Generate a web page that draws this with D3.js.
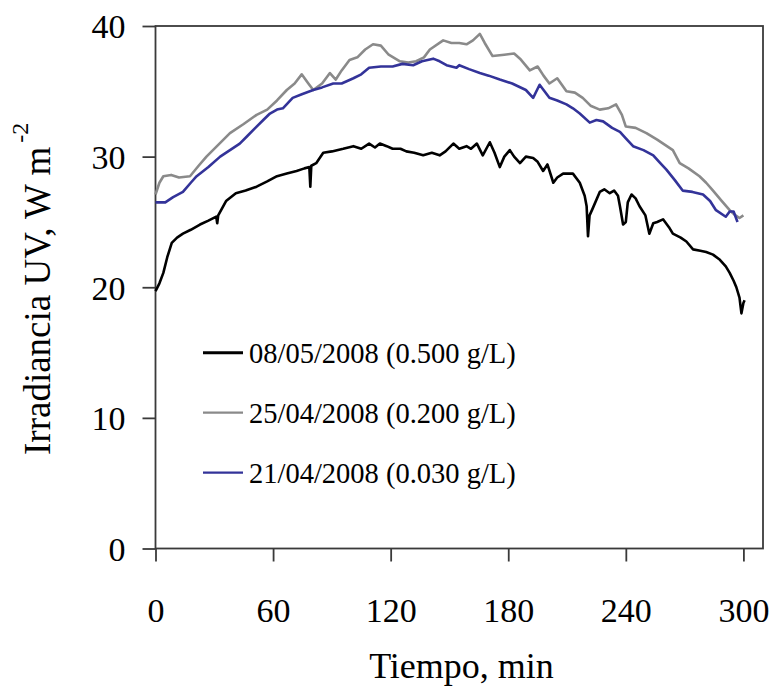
<!DOCTYPE html>
<html>
<head>
<meta charset="utf-8">
<script src="https://cdn.jsdelivr.net/npm/d3@7"></script>
<style>
  body { margin: 0; background: #fff; }
  text { font-family: "Liberation Serif", "Times New Roman", serif; fill: #000; }
</style>
</head>
<body>
<div class="areaGrafica"></div>
<script>
// datos: [tiempo (min), irradiancia (W m-2)]
const serie050 = [[0,19.7],[2,20.3],[4,21.1],[6,22.3],[8.3,23.4],[11,23.8],[14,24.1],[18,24.4],[22.7,24.8],[27,25.1],[31,25.4],[31.5,24.9],[32,25.5],[36,26.6],[41,27.2],[46,27.4],[51.6,27.7],[57,28.1],[62,28.5],[67,28.7],[72,28.9],[76,29.1],[78.5,29.2],[79,27.7],[79.5,29.3],[82,29.5],[85.6,30.3],[90,30.4],[95.8,30.6],[101,30.8],[105,30.6],[109,31.0],[112,30.7],[114.5,31.0],[118,30.8],[121,30.6],[125,30.6],[128,30.4],[132,30.3],[136.6,30.1],[141,30.3],[145,30.1],[148,30.4],[152,31.0],[155,30.6],[158.7,30.8],[161,30.6],[164,31.0],[167,30.1],[170.6,31.1],[173,30.3],[175.7,29.2],[178,30.0],[180.8,30.5],[183,30.0],[186,29.5],[189,30.0],[192.7,29.9],[195,29.6],[197.8,28.9],[200,29.4],[203,28.0],[205,28.4],[208,28.7],[213,28.7],[216.5,28.0],[219,27.0],[220,26.2],[220.7,23.9],[221.5,25.5],[223,26.0],[226.7,27.3],[229,27.5],[231.8,27.2],[234,27.4],[236,27.0],[237,26.2],[238.6,24.8],[240,25.0],[241,26.5],[242.9,27.1],[245,26.8],[247,26.2],[250,25.5],[252,24.1],[254,24.9],[256,25.0],[259,25.2],[262,24.6],[264,24.1],[268,23.8],[270.9,23.5],[274.3,22.9],[278,22.8],[281,22.7],[284.5,22.5],[288,22.1],[291,21.6],[293,21.1],[295,20.5],[296.4,20.0],[298,19.2],[299,18.0],[300,18.8],[300.6,19.0]];

const serie020 = [[0,27.1],[2,28.0],[4,28.5],[8,28.6],[12,28.4],[17.6,28.5],[22,29.3],[26,30.0],[32,30.9],[38,31.8],[45,32.5],[51.6,33.2],[57,33.6],[62,34.3],[67,35.1],[71,35.6],[74.6,36.3],[78,35.6],[80.5,35.1],[85,35.6],[89,36.4],[92,35.9],[95,36.6],[99,37.4],[103,37.6],[107,38.2],[111,38.6],[115,38.5],[119,37.8],[124.7,37.3],[129,37.2],[133,37.3],[137,37.6],[140,38.2],[146.8,38.9],[151,38.7],[155,38.7],[158.7,38.6],[162,38.9],[165.5,39.4],[168,38.7],[172,37.7],[178,37.8],[183,37.9],[186,37.5],[191,36.6],[195,36.9],[198,36.2],[201,35.6],[205,36.0],[209.7,35.0],[214,34.9],[218,34.5],[222,33.9],[226.7,33.6],[231,33.7],[235,34.0],[238,33.2],[240,32.3],[245,32.2],[250.5,31.8],[256,31.3],[260,30.9],[264,30.5],[267.5,29.5],[272,29.1],[277.6,28.5],[281,28.0],[284.5,27.4],[289,26.6],[293,25.9],[296,25.5],[298,25.3],[300,25.5]];

const serie003 = [[0,26.5],[5,26.5],[9,26.9],[14,27.3],[18,28.0],[21,28.5],[27,29.2],[33,30.0],[38,30.5],[43,31.0],[47,31.6],[51.6,32.3],[55,32.8],[58.4,33.3],[62,33.6],[65,33.7],[70,34.5],[75,34.8],[80.5,35.1],[85,35.3],[90.7,35.6],[95,35.6],[101,36.0],[105,36.3],[109,36.8],[115,36.9],[121,36.9],[126,37.1],[131.5,37.0],[136,37.3],[141.7,37.5],[145,37.3],[148.5,37.0],[153.6,36.8],[155,37.0],[160,36.7],[165.5,36.4],[170,36.2],[175.7,35.9],[182,35.6],[189,35.1],[192.7,34.5],[196,35.5],[201,34.5],[205,34.3],[209.7,34.0],[213,33.7],[216.5,33.3],[221.6,32.6],[225,32.8],[228.4,32.7],[233,32.2],[237,31.9],[240,31.4],[243.7,30.8],[249,30.5],[254,30.1],[257,29.6],[260.7,29.0],[265,28.2],[269,27.4],[274,27.3],[279.4,27.1],[283,26.6],[286,25.9],[291,25.4],[293,25.8],[295,25.8],[297,25.0]];

const etiquetas = ['08/05/2008 (0.500 g/L)', '25/04/2008 (0.200 g/L)', '21/04/2008 (0.030 g/L)'];
const ticksX = [0, 60, 120, 180, 240, 300];
const ticksY = [0, 10, 20, 30, 40];

const colores = ['#000000', '#8a8a8a', '#333399'];

function grafica(){
  const w = 774;
  const h = 688;
  const izq = 155.5, der = 763, arriba = 26, abajo = 548.5;

  let svg = d3.select('.areaGrafica')
              .append('svg')
              .attr('width', w)
              .attr('height', h)

  let xScale = d3.scaleLinear()
                 .domain([0, 310])
                 .range([izq, der])

  let yScale = d3.scaleLinear()
                 .domain([0, 40])
                 .range([abajo, arriba])

  // marco
  svg.append('rect')
     .attr('x', izq)
     .attr('y', arriba)
     .attr('width', der - izq)
     .attr('height', abajo - arriba)
     .attr('fill', 'none')
     .attr('stroke', '#3a3a3a')
     .attr('stroke-width', 1.8)

  let xAxis = d3.axisBottom(xScale)
                .tickValues(ticksX)
                .tickSize(13)
                .tickSizeOuter(0)

  let ejeX = svg.append('g')
      .attr('transform', 'translate(0,' + abajo + ')')
      .call(xAxis)
  ejeX.select('.domain').remove()
  ejeX.selectAll('line').attr('stroke', '#3a3a3a').attr('stroke-width', 1.8)
  ejeX.selectAll('text')
      .attr('y', 73)
      .attr('dy', 0)
      .style('font-size', '34px')
      .style('font-family', '"Liberation Serif", serif')

  let yAxis = d3.axisLeft(yScale)
                .tickValues(ticksY)
                .tickSize(13)
                .tickSizeOuter(0)

  let ejeY = svg.append('g')
      .attr('transform', 'translate(' + izq + ',0)')
      .call(yAxis)
  ejeY.select('.domain').remove()
  ejeY.selectAll('line').attr('stroke', '#3a3a3a').attr('stroke-width', 1.8)
  ejeY.selectAll('text')
      .attr('x', -30)
      .attr('dy', '0.35em')
      .style('font-size', '34px')
      .style('font-family', '"Liberation Serif", serif')

  let linea = d3.line()
                .x((d) => xScale(d[0]))
                .y((d) => yScale(d[1]))

  let series = [serie050, serie020, serie003];

  svg.selectAll('.serie')
     .data(series)
     .enter()
     .append('path')
     .attr('class', 'serie')
     .attr('d', (d) => linea(d))
     .attr('fill', 'none')
     .attr('stroke', (d, i) => colores[i])
     .attr('stroke-width', 2.6)
     .attr('stroke-linejoin', 'round')

  // leyenda
  let leyenda = svg.selectAll('.leyenda')
                   .data(etiquetas)
                   .enter()
                   .append('g')
                   .attr('class', 'leyenda')
                   .attr('transform', (d, i) => 'translate(203,' + (352.7 + i * 60) + ')')

  leyenda.append('line')
         .attr('x1', 0)
         .attr('x2', 40)
         .attr('stroke', (d, i) => colores[i])
         .attr('stroke-width', (d, i) => i == 0 ? 3 : 2.2)

  leyenda.append('text')
         .attr('x', 46)
         .attr('y', 10)
         .style('font-size', '28.5px')
         .text((d) => d)

  // titulos de ejes
  svg.append('text')
     .attr('x', 461.5)
     .attr('y', 678)
     .attr('text-anchor', 'middle')
     .style('font-size', '36px')
     .text('Tiempo, min')

  let tituloY = svg.append('text')
     .attr('transform', 'translate(50,455) rotate(-90)')
     .attr('text-anchor', 'start')
     .style('font-size', '37px')
  tituloY.append('tspan').text('Irradiancia UV, W m')
  tituloY.append('tspan')
         .attr('dy', -22)
         .attr('dx', 4)
         .style('font-size', '24px')
         .text('-2')
}

grafica();
</script>
</body>
</html>
